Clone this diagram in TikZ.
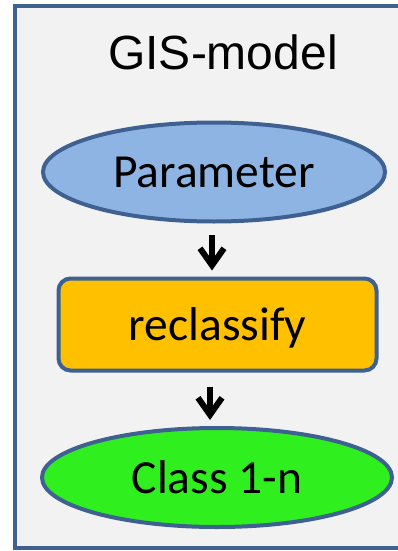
\documentclass[tikz,border=0pt]{standalone}
\usepackage{fontspec}
\usepackage{tikz}
\usetikzlibrary{shapes.geometric,arrows.meta}
\setmainfont{Carlito}
\newfontfamily\arialfont{Liberation Sans}
\definecolor{frameblue}{HTML}{3E6191}
\definecolor{paramblue}{HTML}{8EB4E3}
\definecolor{reclorange}{HTML}{FFC000}
\definecolor{classgreen}{HTML}{2FF01E}
\definecolor{panelgray}{HTML}{F2F2F2}

\begin{document}
\begin{tikzpicture}[x=1pt,y=-1pt,
    blob/.style={ellipse,draw=frameblue,line width=4pt,minimum width=342pt,minimum height=99pt,
      font=\fontsize{47.5}{50}\selectfont,text height=31pt,text depth=0pt,inner sep=0pt},
    flow/.style={line width=6pt,-{Straight Barb[length=17pt,width=24pt]}}]
    \useasboundingbox (0,0) rectangle (398,551);

    % panel
    \draw[draw=frameblue,fill=panelgray,line width=3.5pt] (15,6) rectangle (420,548);
    \node[anchor=base,font=\arialfont\fontsize{48}{52}\selectfont] (title) at (223,70) {GIS-model};

    % steps
    \node[blob,fill=paramblue] (param) at (214,172) {Parameter};
    \node[rectangle,rounded corners=12pt,draw=frameblue,fill=reclorange,line width=4pt,
      minimum width=318pt,minimum height=92pt,inner sep=0pt,
      font=\fontsize{47.5}{50}\selectfont,text height=31pt,text depth=0pt] (recl) at (217.5,324.5) {reclassify};
    \node[blob,fill=classgreen,minimum width=350pt] (class) at (217,477.5) {Class 1-n};

    \draw[flow] ([xshift=-2pt]param.south) ++(0,11) -- ([xshift=-5.5pt,yshift=6pt]recl.north);
    \draw[flow] ([xshift=-7.5pt,yshift=-14pt]recl.south) -- ([xshift=-7pt,yshift=6pt]class.north);

\end{tikzpicture}
\end{document}
